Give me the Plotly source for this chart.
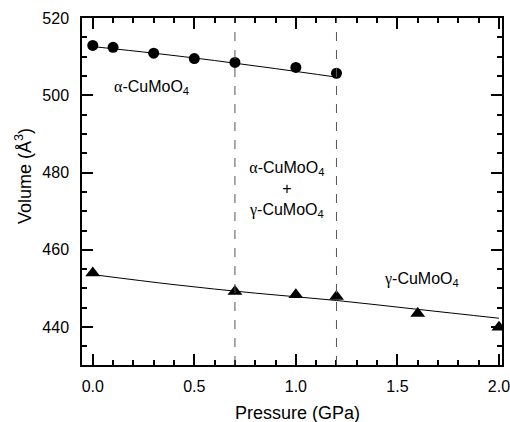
import plotly.graph_objects as go

# Data
alpha_p = [0.0, 0.1, 0.3, 0.5, 0.7, 1.0, 1.2]
alpha_v = [512.9, 512.4, 510.9, 509.5, 508.5, 507.2, 505.7]
gamma_p = [0.0, 0.7, 1.0, 1.2, 1.6, 2.0]
gamma_v = [454.0, 449.2, 448.4, 447.9, 443.5, 440.0]

alpha_fit_p = [0.0, 0.3, 0.6, 0.9, 1.2]
alpha_fit_v = [512.6, 510.9, 509.0, 506.9, 504.7]
gamma_fit_p = [0.0, 0.4, 0.8, 1.2, 1.6, 2.0]
gamma_fit_v = [453.6, 451.0, 448.8, 446.9, 444.6, 442.3]

phase_bounds = [0.7, 1.2]

x_range = [-0.053, 2.015]
y_range = [430.2, 520]
x_major = [0.0, 0.5, 1.0, 1.5, 2.0]
y_major = [440, 460, 480, 500, 520]

FONT = "Liberation Sans, Arial, sans-serif"
GREEK = "<span style='font-family:Liberation Serif, Times New Roman, serif'>%s</span>"
ALPHA = GREEK % "α"
GAMMA = GREEK % "γ"

W, H = 510, 422
L, R, T, B = 82, 8, 18, 57

fig = go.Figure()

for xb in phase_bounds:
    fig.add_shape(type="line", xref="x", yref="paper", x0=xb, x1=xb, y0=0, y1=1,
                  line=dict(color="#555555", width=1, dash="dash"))

fig.add_trace(go.Scatter(x=alpha_fit_p, y=alpha_fit_v, mode="lines",
                         line=dict(color="black", width=1, shape="spline"), showlegend=False))
fig.add_trace(go.Scatter(x=gamma_fit_p, y=gamma_fit_v, mode="lines",
                         line=dict(color="black", width=1, shape="spline"), showlegend=False))
fig.add_trace(go.Scatter(x=alpha_p, y=alpha_v, mode="markers",
                         marker=dict(symbol="circle", size=11, color="black"), showlegend=False))
fig.add_trace(go.Scatter(x=gamma_p, y=gamma_v, mode="markers",
                         marker=dict(symbol="triangle-up", size=13, color="black"), showlegend=False))

ann_font = dict(family=FONT, size=16, color="black")
fig.add_annotation(x=0.287, y=502.0, xref="x", yref="y", showarrow=False,
                   text=ALPHA + "-CuMoO<sub>4</sub>", font=ann_font)
fig.add_annotation(x=0.952, y=475.5, xref="x", yref="y", showarrow=False,
                   text=ALPHA + "-CuMoO<sub>4</sub><br>+<br>" + GAMMA + "-CuMoO<sub>4</sub>",
                   font=ann_font, align="center")
fig.add_annotation(x=1.617, y=452.3, xref="x", yref="y", showarrow=False,
                   text=GAMMA + "-CuMoO<sub>4</sub>", font=ann_font)

title_font = dict(family=FONT, size=18, color="black")
fig.add_annotation(x=23, y=176, xref="paper", yref="paper", showarrow=False,
                   text="Volume (Å<sup>3</sup>)", font=title_font, textangle=-90)
fig.add_annotation(x=297, y=413, xref="paper", yref="paper", showarrow=False,
                   text="Pressure (GPa)", font=title_font)

axis_common = dict(
    showline=True, linecolor="black", linewidth=1.5, mirror="ticks",
    ticks="inside", ticklen=11, tickwidth=1.5, tickcolor="black",
    showgrid=False, zeroline=False, automargin=False,
    ticklabeloverflow="allow",
    tickfont=dict(family=FONT, size=16, color="black"),
)

fig.update_layout(
    xaxis=dict(range=x_range, tickmode="array", tickvals=x_major,
               ticktext=["%.1f" % v for v in x_major], ticklabelstandoff=6,
               minor=dict(tickmode="linear", tick0=0, dtick=0.1, ticks="inside", ticklen=5,
                          tickwidth=1.5, tickcolor="black", showgrid=False),
               **axis_common),
    yaxis=dict(range=y_range, tickmode="array", tickvals=y_major,
               ticktext=[str(v) for v in y_major], ticklabelstandoff=8,
               minor=dict(tickmode="linear", tick0=0, dtick=5, ticks="inside", ticklen=5,
                          tickwidth=1.5, tickcolor="black", showgrid=False),
               **axis_common),
)

fig.update_layout(width=W, height=H, margin=dict(l=L, r=R, t=T, b=B),
                  plot_bgcolor="white", paper_bgcolor="white", showlegend=False)

# convert pixel positions of the title annotations to paper coordinates
for ann in fig.layout.annotations:
    if ann.xref == "paper":
        px, py = ann.x, ann.y
        ann.x = (px - L) / (W - L - R)
        ann.y = 1 - (py - T) / (H - T - B)
        ann.xanchor = "center"
        ann.yanchor = "middle"

fig.write_html("out.html", config={"displayModeBar": False},
               post_script="document.body.style.margin='0';document.body.style.overflow='hidden';")
